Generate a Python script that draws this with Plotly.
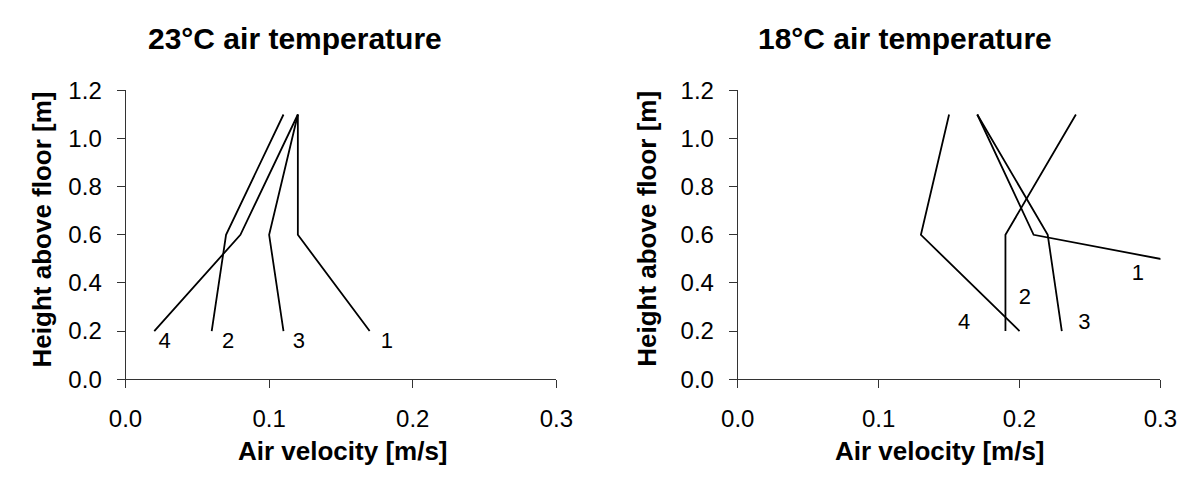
import plotly.graph_objects as go

heights = [0.2, 0.6, 1.1]

# 23°C air temperature
warm_1 = [0.17, 0.12, 0.12]
warm_2 = [0.06, 0.07, 0.11]
warm_3 = [0.11, 0.10, 0.12]
warm_4 = [0.02, 0.08, 0.12]

# 18°C air temperature (series 1 runs off the axis at 0.3)
cool_1 = [0.57, 0.21, 0.17]
cool_2 = [0.19, 0.19, 0.24]
cool_3 = [0.23, 0.22, 0.17]
cool_4 = [0.20, 0.13, 0.15]

series_names = ["1", "2", "3", "4"]
warm_label_x = [0.182, 0.0714, 0.1208, 0.0272]
warm_label_y = [0.153, 0.153, 0.153, 0.153]
cool_label_x = [0.284, 0.2037, 0.246, 0.1607]
cool_label_y = [0.435, 0.337, 0.232, 0.232]

titles = ["23°C air temperature", "18°C air temperature"]
x_title = "Air velocity [m/s]"
y_title = "Height above floor [m]"

FONT = "Liberation Sans, Arial, sans-serif"
W, H = 1203, 479

fig = go.Figure()

line = dict(color="black", width=1.8)
for vals in [warm_1, warm_2, warm_3, warm_4]:
    fig.add_trace(go.Scatter(x=vals, y=heights, mode="lines", line=line,
                             xaxis="x", yaxis="y", showlegend=False, hoverinfo="skip"))
for vals in [cool_1, cool_2, cool_3, cool_4]:
    fig.add_trace(go.Scatter(x=vals, y=heights, mode="lines", line=line,
                             xaxis="x2", yaxis="y2", showlegend=False, hoverinfo="skip"))

lab_font = dict(family=FONT, size=22, color="black")
fig.add_trace(go.Scatter(x=warm_label_x, y=warm_label_y, mode="text", text=series_names,
                         textfont=lab_font, cliponaxis=False,
                         xaxis="x", yaxis="y", showlegend=False, hoverinfo="skip"))
fig.add_trace(go.Scatter(x=cool_label_x, y=cool_label_y, mode="text", text=series_names,
                         textfont=lab_font, cliponaxis=False,
                         xaxis="x2", yaxis="y2", showlegend=False, hoverinfo="skip"))

ydom = [1 - 387 / H, 1 - 81 / H]
xdom1 = [111.7 / W, 555 / W]
xdom2 = [741.7 / W, 1176.7 / W]

axis_common = dict(
    showgrid=False, zeroline=False, showline=True, linecolor="#333333", linewidth=1,
    ticks="outside", ticklen=8, tickcolor="#333333", tickwidth=1,
    tickfont=dict(family=FONT, size=24, color="black"),
)

xa = dict(axis_common, range=[0, 0.3], dtick=0.1, tick0=0, tickformat=".1f",
          ticklabelstandoff=10)
ya = dict(axis_common, range=[0, 1.2], dtick=0.2, tick0=0, tickformat=".1f",
          ticklabelstandoff=10)

fig.update_layout(
    width=W, height=H,
    margin=dict(l=0, r=0, t=0, b=0),
    paper_bgcolor="white", plot_bgcolor="white",
    xaxis=dict(xa, domain=xdom1, anchor="y"),
    yaxis=dict(ya, domain=ydom, anchor="x"),
    xaxis2=dict(xa, domain=xdom2, anchor="y2"),
    yaxis2=dict(ya, domain=ydom, anchor="x2"),
)

ann = []
title_font = dict(family=FONT, size=30, color="black")
axt_font = dict(family=FONT, size=26, color="black")
for cx, t in zip([286, 914], titles):
    ann.append(dict(text="<b>%s</b>" % t, x=cx / W, y=1 - 26 / H, xref="paper", yref="paper",
                    xanchor="center", yanchor="middle", showarrow=False, font=title_font))
for cx in [335, 950]:
    ann.append(dict(text="<b>%s</b>" % x_title, x=cx / W, y=1 - 463 / H, xref="paper", yref="paper",
                    xanchor="center", yanchor="middle", showarrow=False, font=axt_font))
for cx in [26, 648]:
    ann.append(dict(text="<b>%s</b>" % y_title, x=cx / W, y=1 - 228 / H, xref="paper", yref="paper",
                    xanchor="center", yanchor="middle", showarrow=False, font=axt_font, textangle=-90))
fig.update_layout(annotations=ann)

fig.write_html("out.html")
